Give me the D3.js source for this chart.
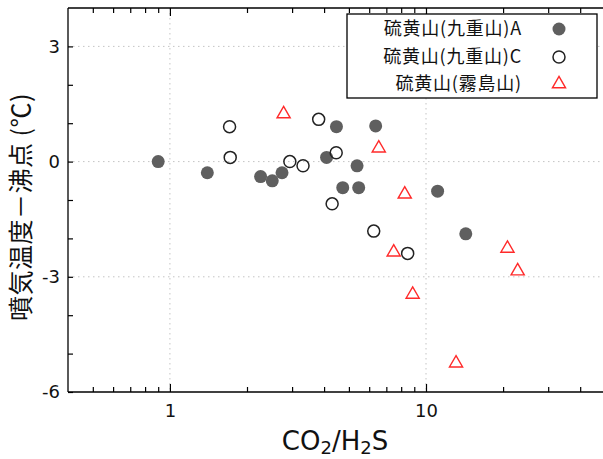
<!DOCTYPE html>
<html>
<head>
<meta charset="utf-8">
<script src="https://cdn.jsdelivr.net/npm/d3@7"></script>
<style>
  body { margin: 0; background: #fff; }
  svg text { font-family: "DejaVu Sans", sans-serif; fill: #111; }
  .jp { font-family: "Noto Sans CJK JP", sans-serif; }
</style>
</head>
<body>
<div id="chart"></div>
<script>
// [CO2/H2S, temperature minus boiling point]
const kujuA = [
    [0.90, 0.0], [1.40, -0.29], [2.26, -0.39], [2.51, -0.50], [2.74, -0.29],
    [4.47, 0.91], [6.36, 0.93], [4.09, 0.11], [5.38, -0.11], [4.73, -0.68],
    [5.46, -0.68], [11.1, -0.77], [14.3, -1.88]
];
const kujuC = [
    [1.71, 0.91], [1.72, 0.11], [2.94, 0.0], [3.31, -0.11], [3.81, 1.10],
    [4.46, 0.23], [4.30, -1.10], [6.25, -1.81], [8.48, -2.39]
];
const kirishima = [
    [2.78, 1.24], [6.54, 0.35], [8.26, -0.85], [7.48, -2.36], [20.8, -2.26],
    [22.8, -2.85], [8.87, -3.46], [13.1, -5.25]
];
const legendLabels = ["硫黄山(九重山)A", "硫黄山(九重山)C", "硫黄山(霧島山)"];

const xMajorTicks = [1, 10];
const xMinorTicks = [0.5, 0.6, 0.7, 0.8, 0.9, 2, 3, 4, 5, 6, 7, 8, 9, 20, 30, 40, 50];
const yLabelTicks = [-6, -3, 0, 3];
const yAllTicks = [-6, -5, -4, -3, -2, -1, 0, 1, 2, 3];
const yGrid = [-3, 0, 3];

const W = 603, H = 459;
const plotLeft = 68, plotTop = 8, plotBottom = 392, plotRight = 605;

const svg = d3.select("#chart")
    .append("svg")
    .attr("width", W)
    .attr("height", H);

const x = d3.scaleLog()
    .domain([0.4, 50])
    .range([plotLeft, plotRight]);

const y = d3.scaleLinear()
    .domain([-6, 4])
    .range([plotBottom, plotTop]);

// dotted grid
const grid = svg.append("g")
    .attr("stroke", "#c4c4c4")
    .attr("stroke-width", 1)
    .attr("stroke-dasharray", "1.5,3.5");
grid.selectAll(".gy").data(yGrid).enter().append("line")
    .attr("x1", plotLeft).attr("x2", W)
    .attr("y1", d => y(d)).attr("y2", d => y(d));
grid.selectAll(".gx").data(xMajorTicks).enter().append("line")
    .attr("x1", d => x(d)).attr("x2", d => x(d))
    .attr("y1", plotTop).attr("y2", plotBottom);

// axes (ticks point inward)
function styleAxis(g) {
    g.select(".domain").remove();
    g.selectAll("line").attr("stroke", "#000").attr("stroke-width", 1.2);
    g.selectAll("text").attr("font-size", "18px").attr("fill", "#111");
}

svg.append("g")
    .attr("transform", `translate(0,${plotBottom})`)
    .call(d3.axisBottom(x).tickValues(xMajorTicks).tickSize(-8).tickPadding(12).tickFormat(d => String(d)))
    .call(styleAxis);
svg.append("g")
    .attr("transform", `translate(0,${plotBottom})`)
    .call(d3.axisBottom(x).tickValues(xMinorTicks).tickSize(-5).tickFormat(""))
    .call(styleAxis);
svg.append("g")
    .attr("transform", `translate(0,${plotTop})`)
    .call(d3.axisTop(x).tickValues(xMajorTicks).tickSize(-8).tickFormat(""))
    .call(styleAxis);
svg.append("g")
    .attr("transform", `translate(0,${plotTop})`)
    .call(d3.axisTop(x).tickValues(xMinorTicks).tickSize(-5).tickFormat(""))
    .call(styleAxis);
svg.append("g")
    .attr("transform", `translate(${plotLeft},0)`)
    .call(d3.axisLeft(y).tickValues(yAllTicks).tickSize(-5).tickFormat(""))
    .call(styleAxis);
svg.append("g")
    .attr("transform", `translate(${plotLeft},0)`)
    .call(d3.axisLeft(y).tickValues(yLabelTicks).tickSize(0).tickPadding(8).tickFormat(d => String(d))) // plain hyphen
    .call(styleAxis);

// frame
const frame = svg.append("g").attr("stroke", "#000").attr("stroke-width", 1.3);
frame.append("line").attr("x1", plotLeft).attr("x2", W).attr("y1", plotTop).attr("y2", plotTop);
frame.append("line").attr("x1", plotLeft).attr("x2", W).attr("y1", plotBottom).attr("y2", plotBottom);
frame.append("line").attr("x1", plotLeft).attr("x2", plotLeft).attr("y1", plotTop).attr("y2", plotBottom);

// axis titles
const xt = svg.append("text")
    .attr("text-anchor", "middle")
    .attr("x", 335)
    .attr("y", 450)
    .attr("font-size", "26px");
xt.append("tspan").text("CO");
xt.append("tspan").attr("font-size", "18px").attr("dy", 4).text("2");
xt.append("tspan").attr("dy", -4).text("/H");
xt.append("tspan").attr("font-size", "18px").attr("dy", 4).text("2");
xt.append("tspan").attr("dy", -4).text("S");

svg.append("text")
    .attr("class", "jp")
    .attr("text-anchor", "middle")
    .attr("transform", "translate(30,207) rotate(-90)")
    .attr("font-size", "25px")
    .attr("letter-spacing", "0.5px")
    .text("噴気温度－沸点 (℃)");

// markers
const triangle = d3.symbol().type(d3.symbolTriangle).size(75);

svg.append("g").selectAll("circle")
    .data(kujuA)
    .enter().append("circle")
    .attr("cx", d => x(d[0]))
    .attr("cy", d => y(d[1]))
    .attr("r", 6.5)
    .attr("fill", "#5f5f5f");

svg.append("g").selectAll("circle")
    .data(kujuC)
    .enter().append("circle")
    .attr("cx", d => x(d[0]))
    .attr("cy", d => y(d[1]))
    .attr("r", 6)
    .attr("fill", "none")
    .attr("stroke", "#222")
    .attr("stroke-width", 1.5);

svg.append("g").selectAll("path")
    .data(kirishima)
    .enter().append("path")
    .attr("d", triangle)
    .attr("transform", d => `translate(${x(d[0])},${y(d[1])})`)
    .attr("fill", "none")
    .attr("stroke", "#ff2a2a")
    .attr("stroke-width", 1.4);

// legend
const legend = svg.append("g");
legend.append("rect")
    .attr("x", 347).attr("y", 14)
    .attr("width", 250).attr("height", 84)
    .attr("fill", "#fff")
    .attr("stroke", "#000")
    .attr("stroke-width", 1.3);

const rowY = [29, 57, 84];
legend.selectAll("text")
    .data(legendLabels)
    .enter().append("text")
    .attr("class", "jp")
    .attr("text-anchor", "end")
    .attr("x", 522)
    .attr("y", (d, i) => rowY[i])
    .attr("dy", "0.35em")
    .attr("font-size", "18px")
    .attr("letter-spacing", "0.8px")
    .text(d => d);

legend.append("circle")
    .attr("cx", 559).attr("cy", rowY[0]).attr("r", 6.5)
    .attr("fill", "#5f5f5f");
legend.append("circle")
    .attr("cx", 559).attr("cy", rowY[1]).attr("r", 6)
    .attr("fill", "none").attr("stroke", "#222").attr("stroke-width", 1.5);
legend.append("path")
    .attr("d", triangle)
    .attr("transform", `translate(559,${rowY[2]})`)
    .attr("fill", "none").attr("stroke", "#ff2a2a").attr("stroke-width", 1.4);
</script>
</body>
</html>
